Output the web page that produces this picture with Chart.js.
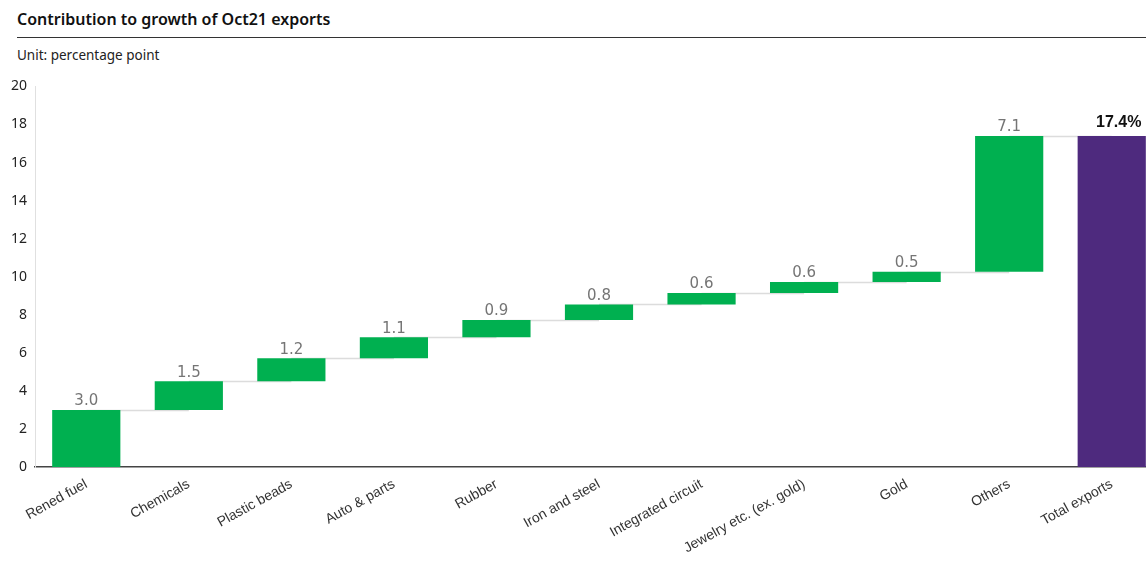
<!DOCTYPE html>
<html>
<head>
<meta charset="utf-8">
<script src="https://cdn.jsdelivr.net/npm/chart.js@4"></script>
<style>
  html, body { margin: 0; padding: 0; background: #fff; }
  body { width: 1146px; height: 563px; position: relative; overflow: hidden; font-family: "Noto Sans", sans-serif; }
  .title { position: absolute; left: 17px; top: 6px; right: 0; height: 31px; border-bottom: 1px solid #333;
    font-size: 16px; font-weight: 600; color: #111; line-height: 26px; }
  .unit { position: absolute; left: 17px; top: 46px; font-size: 13.5px; color: #222; }
  .wrap { position: absolute; left: 0; top: 70px; width: 1163px; height: 493px; }
</style>
</head>
<body>
<div class="title">Contribution to growth of Oct21 exports</div>
<div class="unit">Unit: percentage point</div>
<div class="wrap"><canvas id="chart"></canvas></div>
<script>
const categories = ['Rened fuel', 'Chemicals', 'Plastic beads', 'Auto & parts', 'Rubber', 'Iron and steel',
  'Integrated circuit', 'Jewelry etc. (ex. gold)', 'Gold', 'Others', 'Total exports'];
const contributions = [3.0, 1.5, 1.22, 1.1, 0.9, 0.82, 0.6, 0.58, 0.54, 7.14];
const totalGrowth = 17.4;
const yTicks = [0, 2, 4, 6, 8, 10, 12, 14, 16, 18, 20];

// build floating bars [start, end]
const ranges = [];
let running = 0;
contributions.forEach(v => {
  ranges.push([running, running + v]);
  running += v;
});
ranges.push([0, totalGrowth]);

const barColors = categories.map((c, i) => i === categories.length - 1 ? '#4e2a7e' : '#00b050');

const waterfallExtras = {
  id: 'waterfallExtras',
  beforeDatasetsDraw(chart) {
    const ctx = chart.ctx;
    const meta = chart.getDatasetMeta(0);
    const y = chart.scales.y;
    ctx.save();
    ctx.strokeStyle = '#dcdcdc';
    ctx.lineWidth = 1.5;
    for (let i = 0; i < ranges.length - 1; i++) {
      const a = meta.data[i], b = meta.data[i + 1];
      const py = Math.round(y.getPixelForValue(ranges[i][1])) + 0.5;
      ctx.beginPath();
      ctx.moveTo(a.x, py);
      ctx.lineTo(b.x, py);
      ctx.stroke();
    }
    ctx.restore();
  },
  afterDatasetsDraw(chart) {
    const ctx = chart.ctx;
    const meta = chart.getDatasetMeta(0);
    const y = chart.scales.y;
    ctx.save();
    ctx.textAlign = 'center';
    ctx.textBaseline = 'bottom';
    ranges.forEach((r, i) => {
      const bar = meta.data[i];
      const py = y.getPixelForValue(r[1]) - 1;
      if (i === ranges.length - 1) {
        ctx.font = 'bold 16px "Liberation Sans", Arial, sans-serif';
        ctx.fillStyle = '#111';
        ctx.fillText(totalGrowth.toFixed(1) + '%', bar.x + 7, py - 4);
      } else {
        ctx.font = '15px "DejaVu Sans", sans-serif';
        ctx.fillStyle = '#757575';
        ctx.fillText(contributions[i].toFixed(1), bar.x, py);
      }
    });
    ctx.restore();
  }
};

new Chart(document.getElementById('chart'), {
  type: 'bar',
  data: {
    labels: categories,
    datasets: [{
      data: ranges,
      backgroundColor: barColors,
      borderWidth: 0,
      borderSkipped: false,
      categoryPercentage: 1,
      barPercentage: 0.665
    }]
  },
  options: {
    responsive: true,
    maintainAspectRatio: false,
    animation: false,
    layout: { padding: { top: 10, right: 0, left: 0, bottom: 0 } },
    plugins: {
      legend: { display: false },
      tooltip: { enabled: false }
    },
    scales: {
      x: {
        grid: { display: false, drawTicks: false },
        border: { color: '#444', width: 1.5 },
        ticks: {
          minRotation: 29, maxRotation: 29,
          color: '#333',
          padding: 9,
          font: { family: '"Liberation Sans", Arial, sans-serif', size: 14 }
        },
        afterFit(scale) { scale.height = 96; }
      },
      y: {
        min: 0, max: 20,
        afterBuildTicks(scale) { scale.ticks = yTicks.map(v => ({ value: v })); },
        grid: { display: false, drawTicks: false },
        border: { color: '#e0e0e0', width: 1 },
        ticks: {
          color: '#222',
          padding: 8,
          font: { family: '"Noto Sans", sans-serif', size: 14 }
        },
        afterFit(scale) { scale.width = 35; }
      }
    }
  },
  plugins: [waterfallExtras]
});
</script>
</body>
</html>
